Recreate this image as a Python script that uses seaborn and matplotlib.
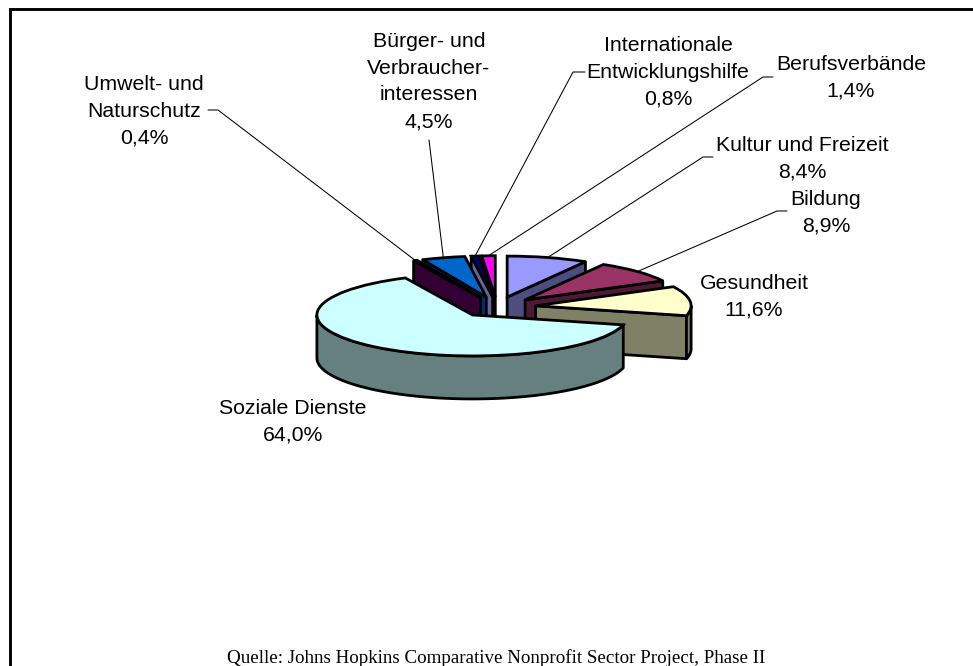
import numpy as np
import matplotlib
matplotlib.use("Agg")
import matplotlib.pyplot as plt
from matplotlib.patches import Polygon
import seaborn as sns

# ---- data -------------------------------------------------------------
categories = ["Kultur und Freizeit", "Bildung", "Gesundheit", "Soziale Dienste",
              "Umwelt- und\nNaturschutz", "Bürger- und\nVerbraucher-\ninteressen",
              "Internationale\nEntwicklungshilfe", "Berufsverbände"]
shares = [8.4, 8.9, 11.6, 64.0, 0.4, 4.5, 0.8, 1.4]
share_labels = ["8,4%", "8,9%", "11,6%", "64,0%", "0,4%", "4,5%", "0,8%", "1,4%"]
source = "Quelle: Johns Hopkins Comparative Nonprofit Sector Project, Phase II"

# ---- style and layout --------------------------------------------------
top_colors = ["#9999FF", "#993366", "#FFFFCC", "#CCFFFF", "#660066", "#0066CC", "#000080", "#FF00FF"]
side_colors = ["#4D4D80", "#4D1A33", "#808066", "#668080", "#330033", "#003366", "#666699", "#800080"]
draw_rank = [4, 5, 6, 7, 3, 2, 1, 0]       # painter's order, back slices low
W, H = 973, 666
CX, CY, RX, RY, DEPTH = 497.0, 307.0, 155.5, 41.0, 43.0
EXPLODE = 0.25
label_xy = [(802, 158.5), (826, 212.5), (754, 296.5), (293, 422),
            (144, 111.5), (429, 81.5), (668, 72.5), (851, 77.5)]
# leader: start of stub, elbow (pixels); end comes from the slice's arc
leaders = {0: [(713, 157), (703, 157)], 1: [(787, 211), (777, 211)],
           4: [(208, 110), (218, 110)], 5: [(429, 140)],
           6: [(585, 72), (573, 72)], 7: [(773, 77), (763, 77)]}

sns.set_theme(style="white")
plt.rcParams["font.family"] = ["Liberation Sans", "DejaVu Sans"]
palette = sns.color_palette(top_colors)
side_palette = sns.color_palette(side_colors)

fig = plt.figure(figsize=(W / 100, H / 100), dpi=100, facecolor="white")
ax = fig.add_axes([0, 0, 1, 1])
wedges, _ = ax.pie(shares, explode=[EXPLODE] * len(shares), colors=palette,
                   startangle=90, counterclock=False, radius=1,
                   wedgeprops=dict(edgecolor="black", linewidth=2.0, joinstyle="miter"))
ax.set_aspect("auto")
ax.set_xlim(-CX / RX, (W - CX) / RX)
ax.set_ylim((CY - H) / RY, CY / RY)
ax.axis("off")


def px(x, y):
    return (x - CX) / RX, (CY - y) / RY


depth = DEPTH / RY
wall_style = dict(edgecolor="black", linewidth=2.0, joinstyle="round")
for i, w in enumerate(wedges):
    z = 10 + 2 * draw_rank[i]
    w.set_zorder(z + 1)
    cx, cy = w.center
    # radial walls facing the viewer
    for ang, visible in ((w.theta2, np.cos(np.radians(w.theta2)) < -1e-6),
                         (w.theta1, np.cos(np.radians(w.theta1)) > 1e-6)):
        if visible:
            ex, ey = cx + np.cos(np.radians(ang)), cy + np.sin(np.radians(ang))
            ax.add_patch(Polygon([(cx, cy), (ex, ey), (ex, ey - depth), (cx, cy - depth)],
                                 closed=True, facecolor=side_palette[i], zorder=z, **wall_style))
    # outer wall where the arc faces the viewer
    t = np.radians(np.linspace(w.theta1, w.theta2, 300))
    t = t[np.sin(t) <= 0]
    if t.size > 1:
        xs, ys = cx + np.cos(t), cy + np.sin(t)
        pts = np.r_[np.c_[xs, ys], np.c_[xs, ys - depth][::-1]]
        ax.add_patch(Polygon(pts, closed=True, facecolor=side_palette[i], zorder=z, **wall_style))

for i, (name, val) in enumerate(zip(categories, share_labels)):
    x, y = px(*label_xy[i])
    ax.text(x, y, f"{name}\n{val}", ha="center", va="center", fontsize=15.3,
            color="black", linespacing=1.53, zorder=40)

for i, pts in leaders.items():
    w = wedges[i]
    mid = np.radians((w.theta1 + w.theta2) / 2)
    end = (w.center[0] + np.cos(mid), w.center[1] + np.sin(mid))
    xy = np.array([px(*p) for p in pts] + [end])
    ax.plot(xy[:, 0], xy[:, 1], color="black", lw=0.75, zorder=9)

# frame: left and top rules only
ax.plot(*np.array([px(10, H), px(10, 9.5), px(W, 9.5)]).T, color="black", lw=2.1,
        solid_joinstyle="miter", zorder=50, clip_on=False)

x, y = px(496, 658)
ax.text(x, y, source, ha="center", va="center", fontsize=13.7,
        family=["Liberation Serif", "DejaVu Serif"], color="black", zorder=40)

fig.savefig("out.png", dpi=100, facecolor="white")
